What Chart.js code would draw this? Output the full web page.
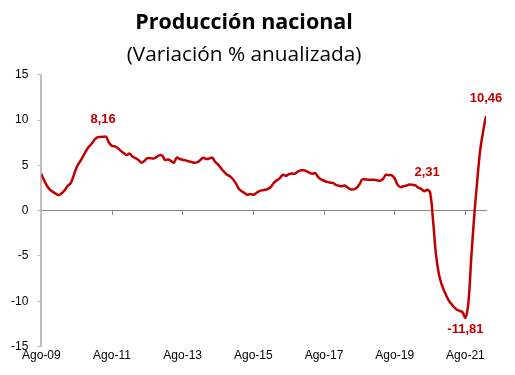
<!DOCTYPE html>
<html lang="es">
<head>
<meta charset="UTF-8">
<title>Producción nacional</title>
<script src="https://cdn.jsdelivr.net/npm/chart.js"></script>
<style>
  html, body { margin: 0; padding: 0; background: #fff; }
  #wrap { width: 515px; height: 375px; }
</style>
</head>
<body>
<div id="wrap"><canvas id="chart" width="515" height="375"></canvas></div>
<script>
// monthly values, variación % anualizada
const values = [
  4.07, 3.3, 2.7, 2.3, 2.05, 1.85, 1.72, 1.95, 2.3, 2.75,
  3.05, 3.9, 4.8, 5.35, 5.9, 6.5, 7.0, 7.35, 7.8, 8.1,
  8.14, 8.16, 8.14, 7.5, 7.15, 7.1, 6.9, 6.6, 6.35, 6.15,
  6.3, 5.95, 5.8, 5.6, 5.3, 5.5, 5.8, 5.8, 5.75, 5.9,
  6.1, 6.1, 5.6, 5.65, 5.5, 5.3, 5.85, 5.7, 5.62, 5.55,
  5.45, 5.38, 5.28, 5.35, 5.6, 5.85, 5.7, 5.75, 5.85, 5.4,
  5.1, 4.7, 4.3, 4.0, 3.8, 3.5, 3.04, 2.45, 2.15, 1.95,
  1.75, 1.85, 1.75, 1.95, 2.15, 2.25, 2.3, 2.4, 2.65, 3.1,
  3.35, 3.6, 3.95, 3.85, 4.0, 4.1, 4.07, 4.3, 4.45, 4.45,
  4.37, 4.2, 4.07, 4.15, 3.7, 3.45, 3.3, 3.18, 3.1, 3.07,
  2.85, 2.75, 2.7, 2.78, 2.55, 2.35, 2.35, 2.5, 2.9, 3.45,
  3.45, 3.42, 3.42, 3.42, 3.35, 3.3, 3.5, 3.95, 3.92, 3.9,
  3.55, 2.85, 2.6, 2.7, 2.78, 2.88, 2.85, 2.78, 2.55, 2.4,
  2.15, 2.31, 2.0, -1.0, -4.8, -7.0, -8.2, -9.0, -9.7, -10.2,
  -10.6, -10.9, -11.05, -11.2, -11.81, -10.2, -5.2, -0.6, 3.2, 6.6,
  8.7, 10.46
];

// x tick labels, one every 24 months
const tickLabels = ['Ago-09', 'Ago-11', 'Ago-13', 'Ago-15', 'Ago-17', 'Ago-19', 'Ago-21'];

// points that carry a value label
const labelIdx = [21, 131, 144, 151];

const points = values.map((v, i) => ({ x: i, y: v }));
const red = '#C00000';

const valueLabels = {
  id: 'valueLabels',
  afterDatasetsDraw(chart) {
    const meta = chart.getDatasetMeta(0);
    const ctx = chart.ctx;
    ctx.save();
    ctx.font = 'bold 13px "Liberation Sans", Arial, sans-serif';
    ctx.fillStyle = red;
    ctx.textAlign = 'center';
    ctx.textBaseline = 'middle';
    labelIdx.forEach(i => {
      const p = meta.data[i];
      const v = values[i];
      const txt = v.toFixed(2).replace('.', ',');
      const dy = v < 0 ? 12 : -17;
      ctx.fillText(txt, p.x, p.y + dy);
    });
    ctx.restore();
  }
};

// one tick per label, every 24 months
const yearTicks = scale => {
  scale.ticks = tickLabels.map((_, i) => ({ value: i * 24 }));
};

new Chart(document.getElementById('chart'), {
  type: 'line',
  data: {
    datasets: [{
      data: points,
      borderColor: red,
      borderWidth: 2.5,
      pointRadius: 0,
      tension: 0.4,
      fill: false
    }]
  },
  options: {
    responsive: false,
    animation: false,
    layout: { padding: { left: 2, right: 29, top: 0, bottom: 10 } },
    plugins: {
      legend: { display: false },
      tooltip: { enabled: false },
      title: {
        display: true,
        text: 'Producción nacional',
        color: '#000',
        font: { family: '"Open Sans", sans-serif', size: 21.5, weight: 'bold', lineHeight: 1.2 },
        padding: { top: 10, bottom: 0 }
      },
      subtitle: {
        display: true,
        text: '(Variación % anualizada)',
        color: '#000',
        font: { family: '"Open Sans", sans-serif', size: 20.8, lineHeight: 1.2 },
        padding: { top: 7, bottom: 7 }
      }
    },
    scales: {
      x: {
        type: 'linear',
        min: 0,
        max: 151,
        position: 'bottom',
        afterBuildTicks: yearTicks,
        grid: { display: false, drawTicks: false },
        border: { display: false },
        ticks: {
          autoSkip: false,
          maxRotation: 0,
          padding: 2,
          color: '#000',
          font: { family: '"Liberation Sans", Arial, sans-serif', size: 12 },
          callback: v => tickLabels[v / 24]
        }
      },
      x0: {
        type: 'linear',
        min: 0,
        max: 151,
        position: { y: 0 },
        afterBuildTicks: yearTicks,
        grid: { drawOnChartArea: false, drawTicks: true, tickLength: 4, color: '#868686' },
        border: { color: '#868686', width: 1 },
        ticks: { display: false }
      },
      y: {
        min: -15,
        max: 15,
        grid: { drawOnChartArea: false, drawTicks: true, tickLength: 4, color: '#bfbfbf' },
        border: { color: '#bfbfbf', width: 2 },
        ticks: {
          stepSize: 5,
          padding: 9,
          color: '#000',
          font: { family: '"Liberation Sans", Arial, sans-serif', size: 12 }
        }
      }
    }
  },
  plugins: [valueLabels]
});
</script>
</body>
</html>
